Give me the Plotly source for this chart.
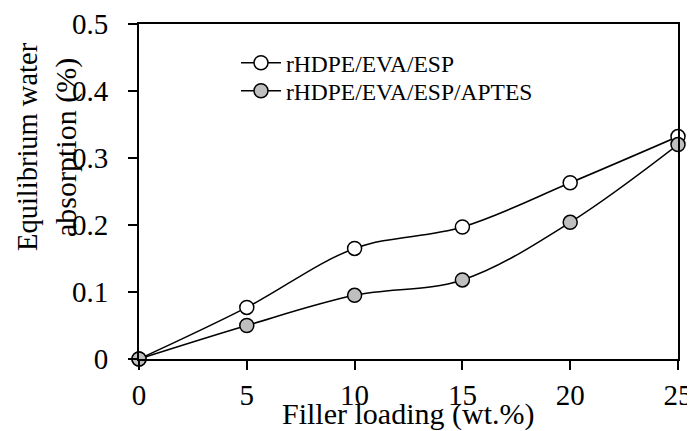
import plotly.graph_objects as go

filler = [0, 5, 10, 15, 20, 25]
esp = [0.0, 0.077, 0.165, 0.197, 0.263, 0.332]
esp_aptes = [0.0, 0.050, 0.095, 0.118, 0.204, 0.320]
names = ["rHDPE/EVA/ESP", "rHDPE/EVA/ESP/APTES"]
x_ticks = [0, 5, 10, 15, 20, 25]
y_ticks = [0, 0.1, 0.2, 0.3, 0.4, 0.5]
y_ticklabels = ["0", "0.1", "0.2", "0.3", "0.4", "0.5"]

FONT = "Liberation Serif, Times New Roman, serif"
OFF = 8  # page body margin
W, H = 695, 431
# plot-area edges in screen pixels
L, R, T, B = 139, 678, 24, 359
ml, mt = L - OFF, T - OFF
mr, mb = W - (R - OFF), H - (B - OFF)

fig = go.Figure()
fig.add_trace(go.Scatter(
    x=filler, y=esp, name=names[0], mode="lines+markers",
    line=dict(color="black", width=1.5, shape="spline", smoothing=1.0),
    marker=dict(size=14, color="white", line=dict(color="black", width=1.5)),
    cliponaxis=False, legend="legend",
))
fig.add_trace(go.Scatter(
    x=filler, y=esp_aptes, name=names[1], mode="lines+markers",
    line=dict(color="black", width=1.5, shape="spline", smoothing=1.0),
    marker=dict(size=14, color="#bfbfbf", line=dict(color="black", width=1.5)),
    cliponaxis=False, legend="legend2",
))


def px2x(p):
    return (p - L) / (R - L)


def px2y(p):
    return (B - p) / (B - T)


def leg(ycenter):
    return dict(
        x=px2x(236), y=px2y(ycenter), xanchor="left",
        yanchor="middle", bgcolor="rgba(0,0,0,0)",
        font=dict(size=23.5, family=FONT), itemwidth=40,
    )


fig.update_layout(
    width=W, height=H,
    margin=dict(l=ml, r=mr, t=mt, b=mb, autoexpand=False),
    paper_bgcolor="white", plot_bgcolor="white",
    font=dict(family=FONT, color="black", size=29),
    showlegend=True,
    legend=leg(63),
    legend2=leg(91),
    xaxis=dict(
        range=[0, 25], tickvals=x_ticks, ticks="outside", ticklen=9, tickwidth=2,
        tickcolor="black", showline=True, linecolor="black", linewidth=2,
        mirror=True, showgrid=False, zeroline=False, automargin=False,
        tickfont=dict(size=29, family=FONT), ticklabelstandoff=0,
    ),
    yaxis=dict(
        range=[0, 0.5], tickvals=y_ticks, ticktext=y_ticklabels, ticks="outside",
        ticklen=9, tickwidth=2, tickcolor="black", showline=True,
        linecolor="black", linewidth=2, mirror=True, showgrid=False,
        zeroline=False, automargin=False,
        tickfont=dict(size=29, family=FONT), ticklabelstandoff=14,
    ),
    annotations=[
        dict(text="Equilibrium water", x=px2x(27), y=px2y(146), xref="paper",
             yref="paper", xanchor="center", yanchor="middle",
             showarrow=False, textangle=-90, font=dict(size=28.5, family=FONT)),
        dict(text="absorption (%)", x=px2x(66), y=px2y(148), xref="paper",
             yref="paper", xanchor="center", yanchor="middle",
             showarrow=False, textangle=-90, font=dict(size=30, family=FONT)),
        dict(text="Filler loading (wt.%)", x=px2x(408), y=px2y(414),
             xref="paper", yref="paper", xanchor="center", yanchor="middle",
             showarrow=False, font=dict(size=30, family=FONT)),
    ],
)

fig.write_html("out.html")
